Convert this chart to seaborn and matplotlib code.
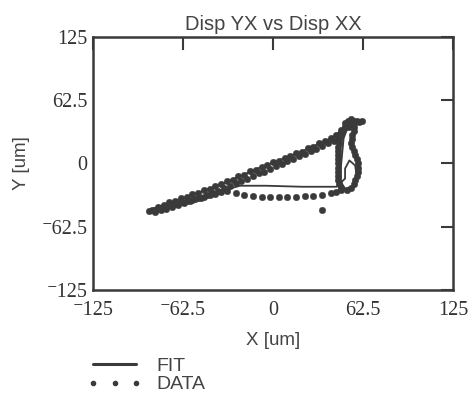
import matplotlib
matplotlib.use('Agg')
import matplotlib.pyplot as plt
from matplotlib.lines import Line2D
import seaborn as sns
import pandas as pd

# FIT curve (solid line)
FIT_X = [-84, -60, -35, -9, 20, 42, 51, 55, 52, 49, 48, 47, 47, 50, 55, 58, 57, 53, 50, 50, 44,
         20, -5, -23, -45, -65, -84]
FIT_Y = [-45, -33, -20, -4, 12, 26, 38, 43, 36, 25, 10, -5, -18, -25, -23, -12, -2, 3, -5, -15, -23,
         -23, -22, -22, -31, -39, -45]

# measured points (dots)
DATA_X = [
    # upper edge
    -84, -80, -76, -72, -68, -64, -60, -56, -52, -48, -44, -40, -36, -32, -28, -24, -20, -16,
    -12, -8, -4, 0, 4, 8, 12, 16, 20, 24, 28, 32, 36, 40, 44, 47, 50, 53, 56,
    # inner row of the upper band
    -82, -78, -74, -70, -66, -62, -58, -54, -50, -46, -42, -38, -34, -30, -26, -22, -18, -14,
    -10, -6, -2, 2, 6, 10, 14, 18, 22, 26, 30, 34, 38, 42, 46,
    # lower-left edge
    -86, -80, -76, -72, -68, -64, -60, -56, -52, -48, -44, -40, -36,
    # lower dashed row
    -32, -26, -20, -14, -8, -2, 4, 10, 16, 22, 28, 34, 40, 44, 47,
    # right loop, left side
    50, 48, 47, 46, 46, 45, 45, 45, 45, 45, 45, 45, 45, 45, 46, 47,
    # right loop, right side
    55, 56, 56, 55, 55, 54, 55, 56, 57, 58, 59, 59, 59, 58, 57, 56, 54, 51,
    # top corner
    52, 54, 56, 50, 53, 58, 60, 62,
    # stray point
    34,
]
DATA_Y = [
    -45.5, -43, -41.5, -38.5, -37.5, -34.5, -33, -30.5, -29.5, -26.5, -25, -22, -20.5, -17.5,
    -16, -12.5, -11, -7.8, -6.3, -3, -1.8, 1.4, 2.6, 5.8, 7.1, 10.3, 11.5, 15, 16.6, 20.1, 21.7,
    25.2, 28.2, 33.2, 36.2, 40.5, 42,
    -47.5, -46, -44.5, -43, -41.5, -39.5, -37.5, -35.5, -34, -31.5, -29.5, -27, -24.5, -22.5,
    -19.5, -17, -15.5, -12.5, -9.5, -8, -5, -2.5, -0.5, 2.5, 4.5, 7, 9.5, 12, 14.5, 17.5, 20, 22.5,
    25.5,
    -47, -45, -43, -41.5, -40, -38.4, -37, -35.6, -34.2, -32.8, -31.4, -30, -28.6,
    -27, -29, -31, -32.5, -33, -33.5, -33, -33.5, -33, -32.5, -32, -31, -29.5, -28, -26,
    36, 32, 28, 24, 20, 16, 12, 8, 4, 0, -4, -8, -12, -16, -20, -24,
    40, 36, 32, 28, 24, 20, 16, 12, 8, 4, 0, -4, -8, -12, -16, -20, -24, -26,
    42, 44, 40, 40, 36, 42, 41, 42,
    -46,
]

TICKS = [-125, -62.5, 0, 62.5, 125]
TICK_LABELS = ['\u207b125', '\u207b62.5', '0', '62.5', '125']

INK = '#3a3a3a'

fit = pd.DataFrame({'x': FIT_X, 'y': FIT_Y})
data = pd.DataFrame({'x': DATA_X, 'y': DATA_Y})

sns.set_style('white')
fig = plt.figure(figsize=(4.72, 3.97), dpi=100)
ax = fig.add_axes([0.197, 0.2695, 0.763, 0.6375])

sns.lineplot(x='x', y='y', data=fit, sort=False, estimator=None, ax=ax,
             color=INK, linewidth=1.3)
sns.scatterplot(x='x', y='y', data=data, ax=ax, color=INK, s=22,
                edgecolor=INK, linewidth=0.3)

ax.set_xlim(-125, 125)
ax.set_ylim(-125, 125)
ax.set_xticks(TICKS)
ax.set_yticks(TICKS)
serif = ['Liberation Serif', 'DejaVu Serif']
ax.set_xticklabels(TICK_LABELS, family=serif, fontsize=14.5, color='#333333')
ax.set_yticklabels(TICK_LABELS, family=serif, fontsize=14.5, color='#333333')
ax.tick_params(axis='both', direction='in', length=9, width=1.5, color=INK,
               top=True, right=True)
ax.tick_params(axis='x', pad=8)
ax.tick_params(axis='y', pad=4)
for s in ax.spines.values():
    s.set_color(INK)
    s.set_linewidth(1.8)

sans = ['Liberation Sans', 'DejaVu Sans']
ax.set_title('Disp YX vs Disp XX', family=sans, fontsize=14.5, color='#444444', pad=5)
ax.set_xlabel('X [um]', family=sans, fontsize=13.5, color='#444444')
ax.set_ylabel('Y [um]', family=sans, fontsize=13.5, color='#444444')
ax.xaxis.set_label_coords(0.5, -0.165)
ax.yaxis.set_label_coords(-0.175, 0.5)

handles = [
    Line2D([], [], color=INK, linewidth=2.2),
    Line2D([], [], color=INK, linestyle='none', marker='o', markersize=3),
]
fig.legend(handles, ['FIT', 'DATA'], loc='upper left', bbox_to_anchor=(0.185, 0.1),
           frameon=False, borderpad=0, borderaxespad=0, numpoints=3,
           handlelength=2.8, handletextpad=0.75, labelspacing=0.05,
           prop={'family': sans, 'size': 14})
for t in fig.legends[0].get_texts():
    t.set_color('#444444')

fig.savefig('out.png', dpi=100, facecolor='white')
